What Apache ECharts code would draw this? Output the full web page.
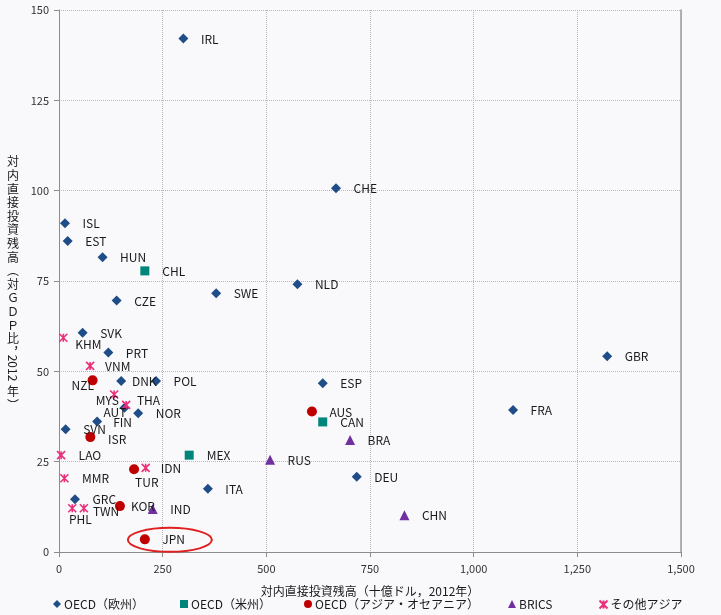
<!DOCTYPE html>
<html><head><meta charset="utf-8">
<script src="https://cdn.jsdelivr.net/npm/echarts@6/dist/echarts.min.js"></script>
<style>html,body{margin:0;padding:0;background:#f9f9fc}#c{width:721px;height:615px}</style>
</head><body><div id="c"></div>
<script>
// ---- data ----
const euNames = ['IRL','CHE','ISL','EST','HUN','NLD','SWE','CZE','SVK','PRT','GBR','DNK','POL','ESP','FRA','NOR','AUT','FIN','SVN','ITA','DEU','GRC'];
const euX =     [300, 668, 14.5, 21, 105, 575, 379, 139, 57, 119, 1322, 150, 234, 636, 1095, 191, 158, 92, 16, 359, 718, 38.6];
const euY =     [142.1, 100.7, 91, 86.1, 81.6, 74.1, 71.6, 69.6, 60.7, 55.2, 54.2, 47.3, 47.3, 46.7, 39.3, 38.4, 39.9, 36.1, 34, 17.5, 20.8, 14.6];

const amNames = ['CHL','MEX','CAN'];
const amX =     [207, 314, 636];
const amY =     [77.8, 26.8, 36];

const aoNames = ['NZL','ISR','AUS','TUR','KOR','JPN'];
const aoX =     [81, 75.5, 610, 181, 147, 207];
const aoY =     [47.5, 31.8, 38.9, 22.9, 12.7, 3.5];

const brNames = ['BRA','RUS','IND','CHN'];
const brX =     [702, 509, 226, 833];
const brY =     [31, 25.5, 11.9, 10.2];

const asNames = ['KHM','VNM','MYS','THA','LAO','IDN','MMR','PHL','TWN'];
const asX =     [10.5, 75, 133, 162, 5, 209, 13, 32, 60];
const asY =     [59.3, 51.5, 43.6, 40.7, 26.8, 23.3, 20.4, 12.1, 12.1];

const seriesNames = ['OECD（欧州）','OECD（米州）','OECD（アジア・オセアニア）','BRICS','その他アジア'];
const xTicks = [0, 250, 500, 750, 1000, 1250, 1500];
const yTicks = [0, 25, 50, 75, 100, 125, 150];
const highlighted = 'JPN';

// ---- styling (not data) ----
const FONT = '"Noto Sans CJK JP", "Noto Sans", sans-serif';
const labelTweaks = {
  KHM:[12,6.6], NZL:[-21,4.7], MYS:[-18.3,6.4], THA:[10.7,-4.3], AUT:[-21,4.7],
  FIN:[16,1], DNK:[10.7,0.5], VNM:[15,0.5], TUR:[1,12.7], KOR:[11,0.5],
  TWN:[9,2.7], PHL:[-3.3,10.7], IDN:[15,0.5], ISR:[17.7,2]
};
const starPath = 'path://M0,0L10,10M10,0L0,10M5,0L5,10';

function build(names, xs, ys){
  return names.map((n,i)=>{
    const off = labelTweaks[n] || [17.5,0.5];
    return {name:n, value:[xs[i], ys[i]], label:{offset:off}};
  });
}

const baseLabel = {
  show:true, position:'inside', align:'left', verticalAlign:'middle',
  formatter:'{b}', color:'#1a1a1a', fontSize:12, fontFamily:FONT
};

function sc(name, names, xs, ys, symbol, size, style){
  return {
    type:'scatter', name:name, data:build(names,xs,ys),
    symbol:symbol, symbolSize:size, itemStyle:Object.assign({opacity:1}, style),
    label:baseLabel, emphasis:{disabled:true}, z:3
  };
}

const jpnIdx = aoNames.indexOf(highlighted);

const legendLefts = [53, 180, 304, 508, 597];
const legendIcons = ['diamond','rect','circle','triangle', starPath];

const option = {
  backgroundColor:'#f9f9fc',
  animation:false,
  textStyle:{fontFamily:FONT},
  grid:{left:59, right:40, top:10, bottom:63, containLabel:false},
  xAxis:{
    type:'value', min:xTicks[0], max:xTicks[xTicks.length-1], interval:250,
    name:'対内直接投資残高（十億ドル，2012年）', nameLocation:'middle', nameGap:33,
    nameTextStyle:{fontSize:12, color:'#1a1a1a', fontFamily:FONT},
    axisLine:{show:true, lineStyle:{color:'#8c8c8c', width:1}},
    axisTick:{show:true, length:5, lineStyle:{color:'#8c8c8c'}},
    axisLabel:{fontSize:11, color:'#333', margin:11, fontFamily:FONT,
      formatter:v=>v.toLocaleString('en-US')},
    splitLine:{show:true, lineStyle:{color:'#b8b8b8', type:'dotted', width:1}}
  },
  yAxis:[{
    type:'value', min:yTicks[0], max:yTicks[yTicks.length-1], interval:25,
    axisLine:{show:true, lineStyle:{color:'#8c8c8c', width:1}},
    axisTick:{show:true, length:5, lineStyle:{color:'#8c8c8c'}},
    axisLabel:{fontSize:11, color:'#333', margin:10, fontFamily:FONT},
    splitLine:{show:true, lineStyle:{color:'#b8b8b8', type:'dotted', width:1}}
  },{
    type:'value', position:'right', min:0, max:150, interval:25,
    axisLine:{show:true, lineStyle:{color:'#9a9a9a', width:1.5}},
    axisTick:{show:false}, axisLabel:{show:false}, splitLine:{show:false}
  }],
  legend: seriesNames.map((n,i)=>({
    data:[{name:n, icon:legendIcons[i]}], left:legendLefts[i], top:598, padding:0,
    itemWidth:8, itemHeight:8, itemGap:0, selectedMode:false,
    textStyle:{fontSize:12, color:'#1a1a1a', fontFamily:FONT, padding:[0,0,0,-2]}
  })),
  graphic:[
    {type:'text', left:7, top:155, style:{
      text:['対','内','直','接','投','資','残','高','︵','対','Ｇ','Ｄ','Ｐ','比','︐'].join('\n'),
      font:'12px '+FONT, lineHeight:13.6, fill:'#1a1a1a', align:'left'}},
    {type:'text', x:13, y:368, rotation:-Math.PI/2, style:{
      text:'2012', font:'12px '+FONT, fill:'#1a1a1a', align:'center', verticalAlign:'middle'}},
    {type:'text', left:7, top:385, style:{
      text:['年','︶'].join('\n'), font:'12px '+FONT, lineHeight:13.6, fill:'#1a1a1a', align:'left'}}
  ],
  series:[
    sc(seriesNames[0], euNames, euX, euY, 'diamond', 10, {color:'#1f4d88'}),
    sc(seriesNames[1], amNames, amX, amY, 'rect', 9, {color:'#00857a'}),
    sc(seriesNames[2], aoNames, aoX, aoY, 'circle', 10, {color:'#c00000'}),
    sc(seriesNames[3], brNames, brX, brY, 'triangle', 10, {color:'#7030a0'}),
    sc(seriesNames[4], asNames, asX, asY, starPath, 8, {color:'none', borderColor:'#ea2f7a', borderWidth:1.6}),
    {
      type:'custom', name:'highlight', silent:true, z:2,
      data:[[aoX[jpnIdx], aoY[jpnIdx]]],
      renderItem:(params, api)=>{
        const p = api.coord([api.value(0), api.value(1)]);
        return {type:'ellipse', shape:{cx:p[0]+25, cy:p[1]+0.5, rx:42, ry:12},
          style:{fill:'none', stroke:'#e02020', lineWidth:2}};
      }
    }
  ]
};
const chart = echarts.init(document.getElementById('c'), null, {renderer:'canvas'});
chart.setOption(option);
</script></body></html>
